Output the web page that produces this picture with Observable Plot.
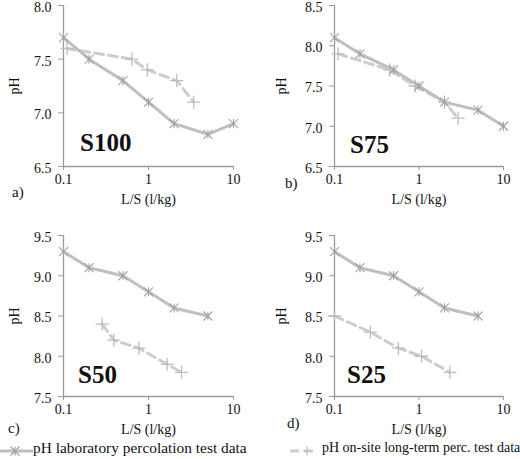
<!DOCTYPE html>
<html><head><meta charset="utf-8">
<script src="https://cdn.jsdelivr.net/npm/d3@7"></script>
<script src="https://cdn.jsdelivr.net/npm/@observablehq/plot@0.6"></script>
<style>
body{margin:0;background:#fff;}
#wrap{position:relative;width:520px;height:459px;font-family:"Liberation Serif",serif;color:#111;overflow:hidden;}
.panel{position:absolute;}
.panel svg{overflow:visible;}
.tag{position:absolute;font-size:15px;line-height:16px;}
.name{position:absolute;font-size:25px;font-weight:bold;line-height:26px;}
.leg{position:absolute;line-height:16px;white-space:nowrap;}
.panel svg g[aria-label="x-axis tick"], .panel svg g[aria-label="y-axis tick"]{stroke:#9a9a9a;}
</style></head><body><div id="wrap"></div>
<script>
// ---- data ----
const labLS = [0.1, 0.2, 0.5, 1, 2, 5, 10];
const labA = [7.7, 7.5, 7.3, 7.1, 6.9, 6.8, 6.9];
const labB = [8.1, 7.9, 7.7, 7.5, 7.3, 7.2, 7.0];
const labLS2 = [0.1, 0.2, 0.5, 1, 2, 5];
const labC = [9.3, 9.1, 9.0, 8.8, 8.6, 8.5];
const labD = [9.3, 9.1, 9.0, 8.8, 8.6, 8.5];

const siteLSA = [0.11, 0.64, 0.97, 2.15, 3.4];
const sitePHA = [7.6, 7.5, 7.4, 7.3, 7.1];
const siteLSB = [0.11, 0.45, 0.9, 2.0, 2.9];
const sitePHB = [7.9, 7.7, 7.5, 7.3, 7.1];
const siteLSC = [0.285, 0.39, 0.77, 1.66, 2.45];
const sitePHC = [8.4, 8.2, 8.1, 7.9, 7.8];
const siteLSD = [0.1, 0.265, 0.57, 1.07, 2.32];
const sitePHD = [8.5, 8.3, 8.1, 8.0, 7.8];

const xTicks = [0.1, 1, 10];
const yTicksA = [6.5, 7.0, 7.5, 8.0];
const yTicksB = [6.5, 7.0, 7.5, 8.0, 8.5];
const yTicksCD = [7.5, 8.0, 8.5, 9.0, 9.5];
const names = ["S100", "S75", "S50", "S25"];
const tags = ["a)", "b)", "c)", "d)"];
const legendLabels = ["pH laboratory percolation test data", "pH on-site long-term perc. test data"];
const xLabel = "L/S (l/kg)";
const yLabel = "pH";

// ---- styling / layout ----
const FONT = '"Liberation Serif", serif';
const LAB_LINE = "#bfbfbf", LAB_MARK = "#a3a3a3";
const SITE_LINE = "#cdcdcd", SITE_MARK = "#bdbdbd";
const AXIS = "#9a9a9a";

const star = {
  draw(ctx, size) {
    const r = Math.sqrt(size / Math.PI);
    ctx.moveTo(-r, -r); ctx.lineTo(r, r);
    ctx.moveTo(-r, r); ctx.lineTo(r, -r);
    ctx.moveTo(0, -r); ctx.lineTo(0, r);
  }
};

const zip = (xs, ys) => xs.map((x, i) => ({x, y: ys[i]}));

const panels = [
  {lab: zip(labLS, labA), site: zip(siteLSA, sitePHA), yDomain: [6.5, 8.0], yTicks: yTicksA,
   left: 0, top: 0, mL: 63, mR: 27, yLabOff: 54, name: names[0], nameX: 80, nameY: 130, tag: tags[0], tagX: 12, tagY: 184},
  {lab: zip(labLS, labB), site: zip(siteLSB, sitePHB), yDomain: [6.5, 8.5], yTicks: yTicksB,
   left: 260, top: 0, mL: 74, mR: 17, yLabOff: 58, name: names[1], nameX: 350, nameY: 132, tag: tags[1], tagX: 285, tagY: 175},
  {lab: zip(labLS2, labC), site: zip(siteLSC, sitePHC), yDomain: [7.5, 9.5], yTicks: yTicksCD,
   left: 0, top: 230, mL: 63, mR: 27, yLabOff: 54, name: names[2], nameX: 78, nameY: 362, tag: tags[2], tagX: 8, tagY: 420},
  {lab: zip(labLS2, labD), site: zip(siteLSD, sitePHD), yDomain: [7.5, 9.5], yTicks: yTicksCD,
   left: 260, top: 230, mL: 74, mR: 17, yLabOff: 58, name: names[3], nameX: 347, nameY: 362, tag: tags[3], tagX: 287, tagY: 415}
];

const wrap = document.getElementById("wrap");

for (const p of panels) {
  const chart = Plot.plot({
    width: 260, height: 230,
    marginLeft: p.mL, marginRight: p.mR, marginTop: 5, marginBottom: 64,
    style: {fontFamily: FONT, fontSize: "14px", color: "#111", background: "transparent", overflow: "visible"},
    x: {type: "log", domain: [0.1, 10]},
    y: {domain: p.yDomain},
    marks: [
      Plot.ruleX([0.1], {stroke: AXIS, strokeWidth: 1.3}),
      Plot.ruleY([p.yDomain[0]], {stroke: AXIS, strokeWidth: 1.3}),
      Plot.axisX({ticks: xTicks, tickFormat: d => d < 1 ? "0.1" : String(d), tickSize: 4, tickPadding: 4,
        fontFamily: FONT, fontSize: 14,
        label: xLabel, labelAnchor: "center", labelOffset: 37, labelArrow: "none"}),
      Plot.axisY({ticks: p.yTicks, tickSize: 5, tickFormat: () => "", label: null}),
      Plot.axisY({ticks: p.yTicks, tickFormat: d3.format(".1f"), tickSize: 0, tickPadding: 12, dy: 2,
        fontFamily: FONT, fontSize: 14,
        label: yLabel, labelAnchor: "center", labelOffset: p.yLabOff, labelArrow: "none"}),
      Plot.line(p.site, {x: "x", y: "y", stroke: SITE_LINE, strokeWidth: 3, strokeDasharray: "9,5"}),
      Plot.dot(p.site, {x: "x", y: "y", symbol: "plus", r: 4.3, stroke: SITE_MARK, strokeWidth: 1.3}),
      Plot.line(p.lab, {x: "x", y: "y", stroke: LAB_LINE, strokeWidth: 3}),
      Plot.dot(p.lab, {x: "x", y: "y", symbol: star, r: 4.5, fill: "none", stroke: LAB_MARK, strokeWidth: 1.1})
    ]
  });
  const div = document.createElement("div");
  div.className = "panel";
  div.style.left = p.left + "px";
  div.style.top = p.top + "px";
  div.appendChild(chart);
  wrap.appendChild(div);

  const n = document.createElement("div");
  n.className = "name"; n.textContent = p.name;
  n.style.left = p.nameX + "px"; n.style.top = p.nameY + "px";
  wrap.appendChild(n);

  const t = document.createElement("div");
  t.className = "tag"; t.textContent = p.tag;
  t.style.left = p.tagX + "px"; t.style.top = p.tagY + "px";
  wrap.appendChild(t);
}

// ---- legend ----
function legendItem(x, label, dashed, textX, fontSize) {
  const ns = "http://www.w3.org/2000/svg";
  const svg = document.createElementNS(ns, "svg");
  svg.setAttribute("width", 36); svg.setAttribute("height", 14);
  svg.style.position = "absolute"; svg.style.left = x + "px"; svg.style.top = "444px";
  const line = document.createElementNS(ns, "line");
  line.setAttribute("x1", 0); line.setAttribute("x2", dashed ? 28 : 33);
  line.setAttribute("y1", 7); line.setAttribute("y2", 7);
  line.setAttribute("stroke", dashed ? SITE_LINE : LAB_LINE);
  line.setAttribute("stroke-width", 3);
  if (dashed) line.setAttribute("stroke-dasharray", "9,5");
  svg.appendChild(line);
  const m = document.createElementNS(ns, "path");
  const cx = dashed ? 17 : 15, r = 4.5;
  m.setAttribute("d", dashed
    ? `M${cx - r},7H${cx + r}M${cx},${7 - r}V${7 + r}`
    : `M${cx - r},${7 - r}L${cx + r},${7 + r}M${cx - r},${7 + r}L${cx + r},${7 - r}M${cx},${7 - r}V${7 + r}`);
  m.setAttribute("stroke", dashed ? SITE_MARK : LAB_MARK);
  m.setAttribute("stroke-width", 1.2); m.setAttribute("fill", "none");
  svg.appendChild(m);
  wrap.appendChild(svg);
  const t = document.createElement("div");
  t.className = "leg"; t.textContent = label;
  t.style.fontSize = fontSize + "px";
  t.style.left = textX + "px"; t.style.top = "440px";
  wrap.appendChild(t);
}
legendItem(0, legendLabels[0], false, 33, 15.4);
legendItem(290, legendLabels[1], true, 322, 14);
</script>
</body></html>
